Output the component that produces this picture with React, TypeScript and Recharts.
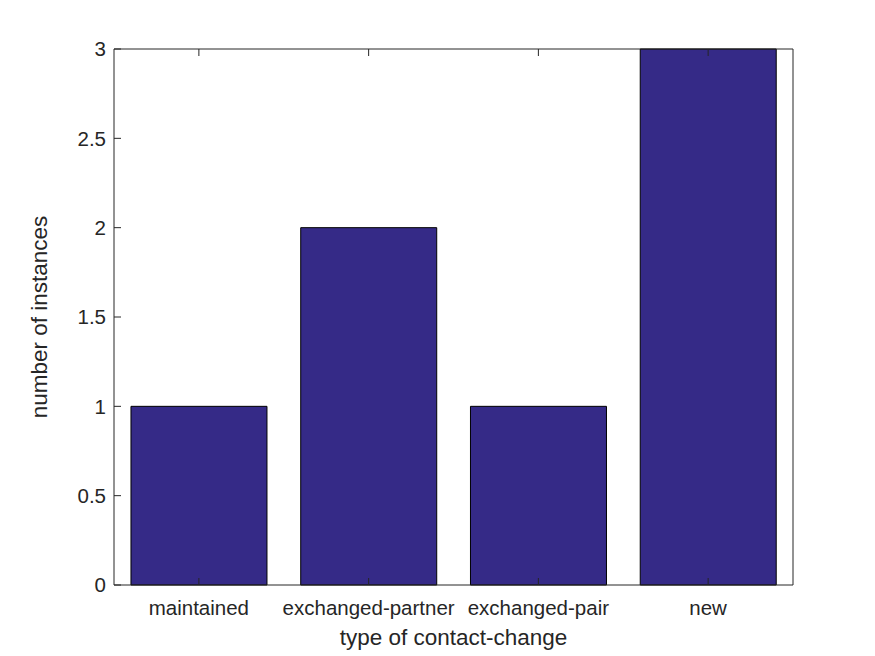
import { BarChart, Bar, XAxis, YAxis, Label } from 'recharts';

const categories = ['maintained', 'exchanged-partner', 'exchanged-pair', 'new'];
const counts = [1, 2, 1, 3];
const yTicks = [0, 0.5, 1, 1.5, 2, 2.5, 3];

const data = categories.map((name, i) => ({ name, count: counts[i] }));

const AXIS = '#262626';
const FONT = '"Liberation Sans", Arial, Helvetica, sans-serif';
const TICK_LEN = 7;

function LeftTick(props: any) {
  const { x, y, payload } = props;
  return (
    <g>
      <line x1={x} y1={y} x2={x + TICK_LEN} y2={y} stroke={AXIS} />
      <text x={x - 8} y={y} dy="0.35em" textAnchor="end" fontSize={20.5} fill={AXIS} fontFamily={FONT}>
        {payload.value}
      </text>
    </g>
  );
}

function RightTick(props: any) {
  const { x, y } = props;
  return <line x1={x} y1={y} x2={x - TICK_LEN} y2={y} stroke={AXIS} />;
}

function BottomTick(props: any) {
  const { x, y, payload } = props;
  return (
    <g>
      <line x1={x} y1={y} x2={x} y2={y - TICK_LEN} stroke={AXIS} />
      <text x={x} y={y + 30} textAnchor="middle" fontSize={20.5} fill={AXIS} fontFamily={FONT}>
        {payload.value}
      </text>
    </g>
  );
}

function TopTick(props: any) {
  const { x, y } = props;
  return <line x1={x} y1={y} x2={x} y2={y + TICK_LEN} stroke={AXIS} />;
}

export default function App() {
  return (
    <div style={{ position: 'absolute', left: 0, top: 0, width: 875, height: 656, background: '#fff', fontFamily: FONT }}>
      <BarChart
        width={875}
        height={656}
        data={data}
        margin={{ top: 48, right: 81, bottom: 0, left: 0 }}
        barCategoryGap="10%"
      >
        <XAxis
          dataKey="name"
          height={71}
          axisLine={{ stroke: AXIS }}
          tickLine={false}
          tickSize={0}
          tickMargin={0}
          tick={(p: any) => <BottomTick {...p} />}
          interval={0}
        >
          <Label value="type of contact-change" position="center" dy={16.5} fontSize={22.5} fill={AXIS} fontFamily={FONT} />
        </XAxis>
        <XAxis
          xAxisId="t"
          dataKey="name"
          orientation="top"
          height={1}
          axisLine={{ stroke: AXIS }}
          tickLine={false}
          tickSize={0}
          tickMargin={0}
          tick={(p: any) => <TopTick {...p} />}
          interval={0}
        />
        <YAxis
          width={114}
          domain={[0, 3]}
          ticks={yTicks}
          axisLine={{ stroke: AXIS }}
          tickLine={false}
          tickSize={0}
          tickMargin={0}
          tick={(p: any) => <LeftTick {...p} />}
          interval={0}
        >
          <Label value="number of instances" angle={-90} position="center" dx={-18} fontSize={22.5} fill={AXIS} fontFamily={FONT} />
        </YAxis>
        <YAxis
          yAxisId="r"
          orientation="right"
          width={1}
          domain={[0, 3]}
          ticks={yTicks}
          axisLine={{ stroke: AXIS }}
          tickLine={false}
          tickSize={0}
          tickMargin={0}
          tick={(p: any) => <RightTick {...p} />}
          interval={0}
        />
        <Bar dataKey="count" fill="#352A87" stroke="#000" strokeWidth={1} isAnimationActive={false} />
      </BarChart>
    </div>
  );
}
